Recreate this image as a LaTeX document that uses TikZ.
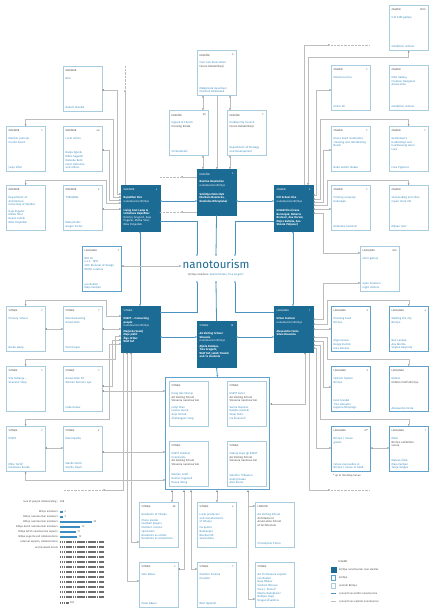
\documentclass[tikz,border=0pt]{standalone}
\usepackage{fontspec}
\setmainfont{Fira Sans}
\usetikzlibrary{arrows.meta,calc}
\definecolor{cHub}{HTML}{1C6B94}
\definecolor{cTxt}{HTML}{3A8CBF}
\definecolor{cLightBox}{HTML}{A9CDDF}
\definecolor{cBioBox}{HTML}{5FA3CC}
\definecolor{cGreyLine}{HTML}{BDBDBD}
\definecolor{cArrow}{HTML}{8A8A8A}
\definecolor{cBlueLine}{HTML}{4A93C0}
\definecolor{cDark}{HTML}{4A4A4A}
\definecolor{cBar}{HTML}{3D8DC0}
\definecolor{cGBar}{HTML}{6E6E6E}
\tikzset{
  lbox/.style={draw=cLightBox,line width=0.7pt,fill=white},
  bbox/.style={draw=cBioBox,line width=1.1pt,fill=white},
  hbox/.style={fill=cHub,draw=cHub,line width=0.5pt},
  lab/.style={inner sep=0pt,font=\fontsize{2.6}{3.2}\selectfont,text=cDark},
  ttl/.style={inner sep=0pt,font=\fontsize{2.75}{3.75}\selectfont,text=cTxt,align=left,text width=35.5pt},
  hlab/.style={inner sep=0pt,font=\fontsize{2.6}{3.2}\selectfont,text=white},
  httl/.style={inner sep=0pt,font=\fontsize{2.75}{3.5}\selectfont,text=white,align=left,text width=35.5pt},
  gline/.style={draw=cGreyLine,line width=0.6pt,>={Triangle[length=1.7pt,width=1.7pt,color=cArrow]}},
  gdot/.style={draw=cGreyLine,line width=0.6pt,dash pattern=on 0.5pt off 0.9pt},
  bline/.style={draw=cBlueLine,line width=0.8pt,>={Triangle[length=1.7pt,width=1.7pt]}},
  sm/.style={inner sep=0pt,font=\fontsize{2.6}{3.2}\selectfont,text=cDark},
}
\newcommand\mybox[8]{%
  \node[#4,anchor=north west,minimum width=38.5pt,minimum height=45pt,inner sep=0pt] (#1) at (#2,#3) {};
  \node[lab,anchor=north west] at ($(#1.north west)+(2.5,3.5)$) {#5};
  \node[lab,anchor=north east] at ($(#1.north east)+(-2.5,3.5)$) {#6};
  \node[ttl,anchor=north west] at ($(#1.north west)+(2.5,11)$) {#7};
  \node[ttl,anchor=south west] at ($(#1.south west)+(2.5,-2.5)$) {#8};
}
\newcommand\myhub[7]{%
  \node[hbox,anchor=north west,minimum width=38.5pt,minimum height=46pt,inner sep=0pt] (#1) at (#2,#3) {};
  \node[hlab,anchor=north west] at ($(#1.north west)+(2.5,3.5)$) {#4};
  \node[hlab,anchor=north east] at ($(#1.north east)+(-2.5,3.5)$) {#5};
  \node[httl,anchor=north west] at ($(#1.north west)+(2.5,11.5)$) {#6};
  \node[httl,anchor=north west] at ($(#1.north west)+(2.5,24)$) {#7};
}
\begin{document}
\begin{tikzpicture}[x=1pt,y=-1pt]
\useasboundingbox (0,0) rectangle (433,612);
\fill[white] (0,0) rectangle (433,612);

% ---------------- MARIBOR
\mybox{M1}{63}{66}{lbox}{MARIBOR}{}{Brlo}{Robert Veselko}
\mybox{M2}{6}{126}{lbox}{MARIBOR}{1}{Maribor pohorje\\tourist board}{Janja Viher}
\mybox{M3}{63}{126}{lbox}{MARIBOR}{40}{Local artists}{Nadja Zgonik\\Milko Sagadin\\Natasha Berk\\Carol Dutronne\\and others}
\mybox{M4}{6}{185}{lbox}{MARIBOR}{}{Department of\\Architecture\\University of Maribor\\[2.5pt]Kaja Pogačar\\Metka Sitar\\Danes Lešnik\\Nika Poljanšek}{}
\mybox{M5}{63}{185}{lbox}{MARIBOR}{2}{TUKEJZDAJ}{Matej Dobrt\\Gregor Vrečar}
\myhub{MH}{121}{185}{MARIBOR}{4}{\textbf{Rajzefiber Biro}\\nanotourism BI/Oyo}{\textbf{Living Coal Lamp \&\\Initiatives Rajzefiber}\\Dimitrij Gregorič, Kaja\\Pogačar, Metka Sitar,\\Nika Poljanšek}

% ---------------- KRAKOW
\mybox{K1}{197}{50}{lbox}{KRAKÓW}{3}{Civic Lab Association\\\textcolor{cDark}{Forum Rehabilitacji}}{Małgorzata Gyserbecz\\Przemek Dziewiałek}
\mybox{K2}{169}{110}{lbox}{KRAKÓW}{50}{Ugorek \& Church\\\textcolor{cDark}{Housing Estate}}{50 Residents}
\mybox{K3}{227}{110}{lbox}{KRAKÓW}{1}{Kraków City Council\\\textcolor{cDark}{Forum Rehabilitacji}}{Department of Strategy\\and Development}
\myhub{KH}{197}{169}{KRAKÓW}{3}{\textbf{Routine Revolution}\\nanotourism BI/Oyo}{\textbf{Schiltlyn Palm Club\\(Barbara Nawrocka,\\Dominika Wilczyńska)}}

% ---------------- ZAGREB
\mybox{Z1}{389}{5}{lbox}{ZAGREB}{1900}{U10 PUN gallery}{exhibition visitors}
\mybox{Z2}{331}{65}{lbox}{ZAGREB}{1}{Pekarnica Ilica}{Ermin Ali}
\mybox{Z3}{389}{65}{lbox}{ZAGREB}{}{HDD Gallery,\\Croatian Designers\\Association}{exhibition visitors}
\mybox{Z4}{331}{126}{lbox}{ZAGREB}{1}{Duvet hand restoration,\\cleaning and refurbishing\\Bendi}{Boba Antolić Bukan}
\mybox{Z5}{389}{126}{lbox}{ZAGREB}{1}{Gentleman's\\barbershop and\\hairdressing salon\\Ivica}{Ivica Pigarnet}
\mybox{Z6}{331}{185}{lbox}{ZAGREB}{1}{Printing company\\Kokarlyak}{Dubravko Lacković}
\mybox{Z7}{389}{185}{lbox}{ZAGREB}{}{Shoemaking and shoe\\repair store XIX}{Mijoan Josić}
\myhub{ZH}{274}{185}{ZAGREB}{5}{\textbf{Hill School Ilica}\\nanotourism BI/Oyo}{\textbf{UrbAN Ilica (Ivana\\Borovnjak, Roberta\\Bratović, Ana Horvat,\\Mojca Kutleša, Ana\\Sbosta Poljanec)}}

% ---------------- LJUBLJANA
\mybox{L0}{82}{246}{bbox}{LJUBLJANA}{1}{BIO 50\\u.s.n. TEST\\24th Biennial of Design\\BIO50 curators}{Jan Boelen\\Maja Vardjan}
\mybox{L1}{360}{246}{lbox}{LJUBLJANA}{300}{okvir gallery}{open museum\\night visitors}
\myhub{LH}{274}{306}{LJUBLJANA}{1}{\textbf{Urban Festival}\\nanotourism BI/Oyo}{\textbf{Alessandro Fonta\\Silvia Rosemna}}
\mybox{L2}{331}{306}{bbox}{LJUBLJANA}{3}{Knowing Food\\BI/Oyo}{Digna Kosas\\Renge Zuchsk\\Ema Danova}
\mybox{L3}{389}{306}{bbox}{LJUBLJANA}{3}{Walking the city\\BI/Oyo}{Ben Landau\\Aya Biertza\\Sophie Rasporty}
\mybox{L4}{331}{366}{bbox}{LJUBLJANA}{3}{Fashion System\\BI/Oyo}{Evan Frankel\\Tina Horvatin\\Eugenia Mreycogic}
\mybox{L5}{389}{366}{bbox}{LJUBLJANA}{}{Nebrot\\\textcolor{cDark}{Hidden Crafts BI/Oyo}}{Alessandro Fonta}
\mybox{L6}{331}{426}{bbox}{LJUBLJANA}{37*}{BI/Oyo | house\\guests}{Future nanosuites at\\BI/Oyo | house in Adab}
\mybox{L7}{389}{426}{bbox}{LJUBLJANA}{1}{Mesh\\\textcolor{cDark}{BI/Oyo exhibition\\venue}}{Mateus Čelik\\Maja Vardjan\\Tanja Vergles}
\node[sm,anchor=north west] (fn) at (333,474) {* up to 160 daily/venue};

% ---------------- VITANJE
\myhub{VH1}{121}{306}{VITANJE}{}{\textbf{KSEVT – Connecting\\people}\\nanotourism BI/Oyo}{\textbf{Marjetka Vozelj\\Maja Jeklič\\Žiga Hribar\\Wolf Eef}}
\mybox{V1}{6}{306}{lbox}{VITANJE}{1}{Primary School}{Breda Jakop}
\mybox{V2}{63}{306}{lbox}{VITANJE}{1}{Mountaineering\\Association}{Pavl Kropec}
\mybox{V3}{6}{366}{lbox}{VITANJE}{1}{Vila Sobanja –\\Souvenir Shop}{}
\mybox{V4}{63}{366}{lbox}{VITANJE}{1}{Association Of\\Women Farmers Ljuc}{Jelka Kumar}
\mybox{V5}{6}{426}{lbox}{VITANJE}{1}{KSEVT}{Miha Turšič\\Emanuela Kralko}
\mybox{V6}{63}{426}{lbox}{VITANJE}{2}{Municipality}{Slavko Vetrih\\Srečko Fijavž}
\myhub{VH}{197}{321}{VITANJE}{19}{\textbf{AA Visiting School\\Slovenia}\\nanotourism BI/Oyo}{\textbf{Aljoša Dekleva,\\Tina Gregorič,\\Wolf Eef, Jakob Travnik\\and 14 students}}
\node[bbox,anchor=north west,minimum width=104pt,minimum height=112pt,inner sep=0pt] (Grp) at (165,377) {};
\mybox{G1}{169}{381}{lbox}{VITANJE}{}{Hang Out Vitanje\\\textcolor{cDark}{AA Visiting School\\Slovenia nanotourism}\\[2.5pt]Judyl Chen\\Janesa Lanek\\Anja Perčak\\Zhehengyan Yang}{}
\mybox{G2}{227}{381}{lbox}{VITANJE}{}{KSEVT hotel\\\textcolor{cDark}{AA Visiting School\\Slovenia nanotourism}\\[2.5pt]Sanna Bujones\\Natalia Jasinski\\Sesar Bolic\\Iva Živanović}{}
\mybox{G3}{169}{441}{lbox}{VITANJE}{}{KSEVT Outdoor\\Community\\\textcolor{cDark}{AA Visiting School\\Slovenia nanotourism}}{Marijan Ledič\\Demier Ingersoll\\Renee Wong}
\mybox{G4}{227}{441}{lbox}{VITANJE}{}{Vitanje Expo @ KSEVT\\\textcolor{cDark}{AA Visiting School\\Slovenia nanotourism}}{Valentin Tribuston\\Anahit Kazan\\Aleš Živanc}
\mybox{V7}{139}{502}{lbox}{VITANJE}{69}{Residents of Vitanje\\[2pt]Chess master\\Football players\\Outdoor cinema\\spectators\\Residents as artists\\Residents as researchers}{}
\mybox{V8}{197}{502}{lbox}{VITANJE}{4}{Local producers\\and manufacturers\\of Vitanje\\[2pt]Carpenter\\Beekeeper\\Blacksmith\\Seamstress}{}
\mybox{LON}{255}{502}{lbox}{LONDON}{}{AA Visiting School\\\textcolor{cDark}{Architectural\\Association School\\of Architecture}}{Christopher Pierce}
\mybox{V9}{139}{562}{lbox}{VITANJE}{1}{Velo Matac}{Pavel Bkano}
\mybox{V10}{197}{562}{lbox}{VITANJE}{1}{Outdoor Cinema\\Provider}{Blaž Ugrelnik}
\mybox{V11}{255}{562}{lbox}{VITANJE}{}{AA VS Slovenia experts\\Jan Boelen\\Neja Mlakar\\Vesham Mirraca\\Vaso J. Perović\\Nikola Radeljković\\Boštjan Vuga\\Dragan Živadinov}{}

% ---------------- CENTRE
\node[inner sep=0pt,font=\fontsize{11.5}{12}\selectfont,text=cHub] (nano) at (216,264) {nanotourism};
\node[sm,anchor=north] (nsub) at (216,273) {BI/Oyo members: \textcolor{cTxt}{Aljoša Dekleva, Tina Gregorič}};
\coordinate (nt1) at (197,256); \coordinate (nt2) at (216,256); \coordinate (nt3) at (235,256);
\coordinate (nb1) at (197,281); \coordinate (nb2) at (216,281); \coordinate (nb3) at (235,281);
\coordinate (nl) at (181,266);

% ---------------- BLUE CONNECTIONS
\draw[bline,<->] (MH.east|-0,201) -- (KH.west|-0,201);
\draw[bline,<->] (KH.east|-0,201) -- (ZH.west|-0,201);
\draw[bline,->] (MH.east|-0,221) -| (nt1);
\draw[bline,->] (ZH.west|-0,221) -| (nt3);
\draw[bline,->] (KH.south) -- (nt2);
\draw[bline,<->] (MH.south-|140,0) -- (VH1.north-|140,0);
\draw[bline,<->] (ZH.south-|293,0) -- (LH.north-|293,0);
\draw[bline,<->] (VH1.east|-0,337) -- (VH.west|-0,337);
\draw[bline,<->] (VH.east|-0,337) -- (LH.west|-0,337);
\draw[bline,->] (VH1.east|-0,312) -| (nb1);
\draw[bline,->] (LH.west|-0,312) -| (nb3);
\draw[bline,->] (VH.north) -- (nb2);
\draw[bline,<->] (VH.south) -- (Grp.north);

% ---------------- GREY: MARIBOR
\draw[gline,<->] (M1.east|-0,90) -- (117,90) |- (MH.west|-0,194);
\draw[gline,<->] (M2.north) |- (113,119) |- (MH.west|-0,197);
\draw[gline,<->] (M3.east|-0,150) -| (109,200) -- (MH.west|-0,200);
\draw[gline,<->] (M4.north) |- (106,180) |- (MH.west|-0,203);
\draw[gline,<->] (M5.east|-0,209) -- (MH.west|-0,209);
\draw[gline,->] (MH.north-|125,0) -- (125,90);
\draw[gdot] (125,89) -- (125,66);
\draw[gline,<->] (L0.east|-0,266) -- (nl);

% ---------------- GREY: KRAKOW
\draw[gline,<->] (K1.south-|203,0) -- (K2.north-|203,0);
\draw[gline,<->] (K1.south-|230,0) -- (K3.north-|230,0);
\draw[gline,->] (K1.south-|217,0) -- (KH.north-|217,0);
\draw[gline,<->] (K2.south-|203,0) -- (KH.north-|203,0);
\draw[gline,<->] (K3.south-|230,0) -- (KH.north-|230,0);
\draw[gline,->] (KH.west|-0,177) -- (181,177);
\draw[gdot] (180,177) -- (159,177);
\draw[gline,->] (KH.west|-0,212) -- (181,212);
\draw[gdot] (180,212) -- (159,212);

% ---------------- GREY: ZAGREB
\draw[gline,<->] (Z1.south) |- (308,57) -- (ZH.north-|308,0);
\draw[gline,->] (ZH.north-|304,0) |- (330,45);
\draw[gdot] (331,45) -- (370,45);
\draw[gline,<->] (Z2.west|-0,90) -| (316,195) -- (ZH.east|-0,195);
\draw[gline,<->] (Z5.north) |- (320,119) |- (ZH.east|-0,199);
\draw[gline,<->] (Z4.west|-0,150) -| (323,202) -- (ZH.east|-0,202);
\draw[gline,<->] (Z7.north) |- (327,180) |- (ZH.east|-0,205);
\draw[gline,<->] (Z6.west|-0,209) -- (ZH.east|-0,209);
\draw[gline,<->] (L1.west|-0,253) -| (323,213) -- (ZH.east|-0,213);

% ---------------- GREY: LJUBLJANA
\draw[gline,<->] (L1.west|-0,283) -| (323,319) -- (LH.east|-0,319);
\draw[gline,<->] (L3.north) |- (327,300) |- (LH.east|-0,324);
\draw[gline,<->] (L2.west|-0,329) -- (LH.east|-0,329);
\draw[gline,<->] (L5.north) |- (327,359) |- (LH.east|-0,337);
\draw[gline,<->] (L4.west|-0,387) -| (323,341) -- (LH.east|-0,341);
\draw[gline,<->] (L7.north) |- (320,419) |- (LH.east|-0,345);
\draw[gline,<->] (L6.west|-0,448) -| (316,348) -- (LH.east|-0,348);
\draw[gline,<->] (L6.east|-0,448) -- (L7.west|-0,448);
\draw[gline,->] (LH.south-|309,0) |- (330,490);
\draw[gdot] (331,490) -- (370,490);
\draw[gline,<->] (LH.south-|305,0) |- (Grp.east|-0,404);

% ---------------- GREY: VITANJE
\draw[gline,<->] (V1.east|-0,329) -- (V2.west|-0,329);
\draw[gline,<->] (V2.east|-0,329) -- (VH1.west|-0,329);
\draw[gline,<->] (V1.north) |- (106,300) |- (VH1.west|-0,316);
\draw[gline,<->] (V3.north) |- (115,359) |- (VH1.west|-0,336);
\draw[gline,<->] (V4.east|-0,386) -| (112,340) -- (VH1.west|-0,340);
\draw[gline,<->] (V4.east|-0,391) -- (Grp.west|-0,391);
\draw[gline,<->] (V5.north) |- (109,419) |- (VH1.west|-0,344);
\draw[gline,<->] (V5.east|-0,448) -- (V6.west|-0,448);
\draw[gline,<->] (V6.east|-0,452) -- (Grp.west|-0,452);
\draw[gline,<->] (V5.south) |- (Grp.west|-0,480);
\draw[gline,->] (VH1.south-|123,0) |- (103,490);
\draw[gdot] (102,490) -- (63,490);
\draw[gline,<->] (VH1.south-|127,0) |- (V9.west|-0,581);
\draw[gline,<->] (VH1.south-|131,0) |- (V7.west|-0,542);
\draw[gline,<->] (Grp.south-|172,0) -- (V7.north-|172,0);
\draw[gline,<->] (Grp.south-|184,0) |- (V9.east|-0,569);
\draw[gline,<->] (Grp.south-|191,0) |- (V10.west|-0,569);
\draw[gline,<->] (Grp.south-|217,0) -- (V8.north-|217,0);
\draw[gline,<->] (Grp.south-|248,0) |- (LON.west|-0,506);
\draw[gline,->] (248,506) |- (V11.west|-0,599);

% ---------------- BAR CHART
\node[sm,anchor=east] (s0) at (58,502) {sum of people collaborating :};
\node[sm,anchor=west] (s0n) at (60,502) {308};
\foreach \y/\t/\n in {512/BI\/Oyo members/2,517/BI\/Oyo nanotourism members/2,522/BI\/Oyo nanotourism members/22,527/BI\/Oyo AA VS nanotourism members/14,532/BI\/Oyo AA VS nanotourism experts/11,537/BI\/Oyo experts and collaborations/12}{
  \node[sm,anchor=east] at (58,\y) {\t};
  \fill[cBar] (60,\y-1.3) rectangle ({60+1.45*\n},\y+1.3);
  \node[sm,anchor=west] at ({61.5+1.45*\n},\y) {\n};
}
\node[sm,anchor=east] at (58,542) {external experts, collaborations};
\node[sm,anchor=east] at (58,547) {and involved locals};
\foreach \r in {0,...,11}{
  \foreach \c in {0,...,23}{
    \fill[cGBar] ({60+\c*1.84},{542+\r*5-1.3}) rectangle ({60+\c*1.84+1.45},{542+\r*5+1.3});
  }
}
\foreach \c in {0,...,4}{
  \fill[cGBar] ({60+\c*1.84},{603-1.3}) rectangle ({60+\c*1.84+1.45},{603+1.3});
}
\node[sm,anchor=west] at (70,603) {293};

% ---------------- LEGEND
\node[sm,anchor=west] (lg0) at (338,562) {LEGEND};
\node[hbox,minimum width=5pt,minimum height=5pt,inner sep=0pt] (lg1) at (333.5,570) {};
\node[sm,anchor=west] at (339,570) {BI/Oyo nanotourism case studies};
\node[bbox,minimum width=4.5pt,minimum height=4.5pt,inner sep=0pt] (lg2) at (333.5,578) {};
\node[sm,anchor=west] at (339,578) {BI/Oyo};
\node[lbox,minimum width=4.5pt,minimum height=4.5pt,inner sep=0pt] (lg3) at (333.5,586) {};
\node[sm,anchor=west] at (339,586) {outside BI/Oyo};
\draw[bline] (331,593.5) -- (336,593.5);
\node[sm,anchor=west] at (339,593.5) {connections within nanotourism};
\draw[gline,line width=0.7pt] (331,601) -- (336,601);
\node[sm,anchor=west] at (339,601) {connections outside nanotourism};
\end{tikzpicture}
\end{document}
